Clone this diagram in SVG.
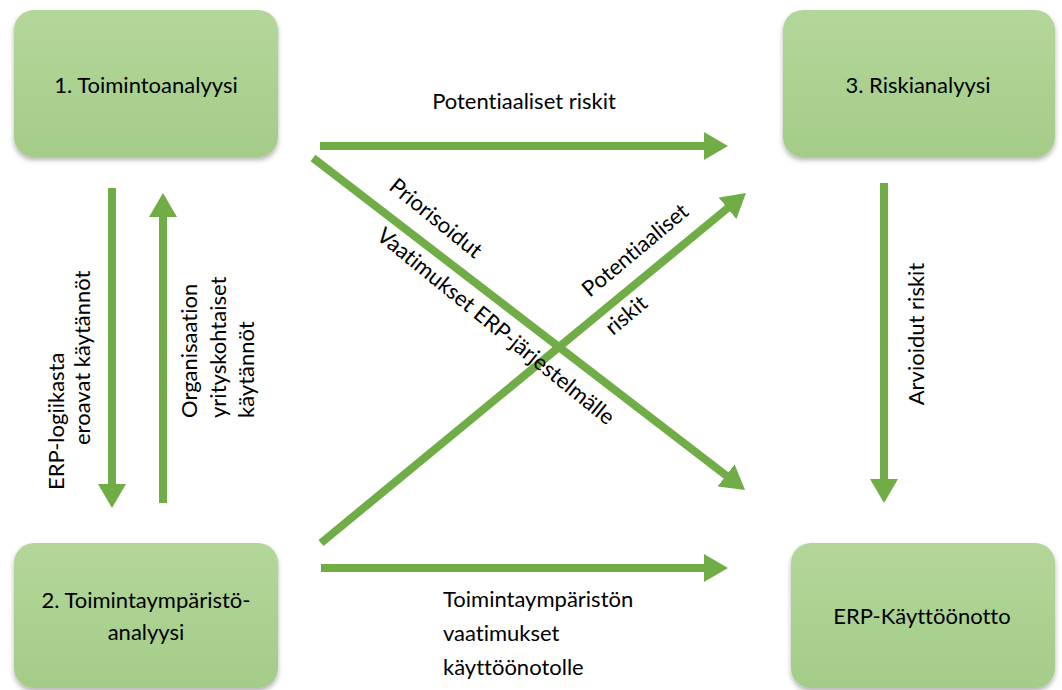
<svg xmlns="http://www.w3.org/2000/svg" width="1062" height="690" viewBox="0 0 1062 690">
  <style>
    .box { fill: url(#boxGrad); filter: url(#soft); }
    .lbl { font-family: Lato, "Liberation Sans", sans-serif; font-size: 22px; fill: #000; font-variant-ligatures: none; }
    .mid { text-anchor: middle; }
    .conn { stroke: #70AD47; stroke-width: 8; fill: none; marker-end: url(#head); }
  </style>
  <defs>
    <linearGradient id="boxGrad" x1="0" y1="0" x2="0" y2="1">
      <stop offset="0" stop-color="#B3D79A"/>
      <stop offset="1" stop-color="#A4CC88"/>
    </linearGradient>
    <filter id="soft" x="-10%" y="-10%" width="120%" height="125%">
      <feGaussianBlur in="SourceAlpha" stdDeviation="2.5"/>
      <feOffset dy="3" result="b"/>
      <feFlood flood-color="#000" flood-opacity="0.3"/>
      <feComposite in2="b" operator="in" result="s"/>
      <feMerge><feMergeNode in="s"/><feMergeNode in="SourceGraphic"/></feMerge>
    </filter>
    <marker id="head" markerUnits="userSpaceOnUse" markerWidth="24" markerHeight="28" refX="2" refY="14" orient="auto">
      <path d="M0,0 L24,14 L0,28 z" fill="#70AD47"/>
    </marker>
  </defs>

  <g id="connectors">
    <line class="conn" x1="320" y1="146" x2="706" y2="146"/>
    <line class="conn" x1="321" y1="568" x2="706" y2="568"/>
    <line class="conn" x1="313" y1="158" x2="727.6" y2="476.6"/>
    <line class="conn" x1="321" y1="543" x2="729" y2="207"/>
    <line class="conn" x1="112" y1="188" x2="112" y2="486"/>
    <line class="conn" x1="163" y1="503" x2="163" y2="215"/>
    <line class="conn" x1="884" y1="183" x2="884" y2="481"/>
  </g>

  <g id="connector-labels">
    <text class="lbl mid" x="524" y="109">Potentiaaliset riskit</text>
    <text class="lbl" x="443" y="607">Toimintaympäristön</text>
    <text class="lbl" x="443" y="641">vaatimukset</text>
    <text class="lbl" x="443" y="675">käyttöönotolle</text>
    <text class="lbl mid" transform="translate(924,334) rotate(-90)">Arvioidut riskit</text>
    <text class="lbl" transform="translate(64,490) rotate(-90)">ERP-logiikasta</text>
    <text class="lbl" transform="translate(90,445) rotate(-90)">eroavat käytännöt</text>
    <text class="lbl" transform="translate(197,418) rotate(-90)">Organisaation</text>
    <text class="lbl" transform="translate(226,418) rotate(-90)">yrityskohtaiset</text>
    <text class="lbl" transform="translate(254,418) rotate(-90)">käytännöt</text>
    <text class="lbl mid" transform="translate(436,218) rotate(39)" dy="0.35em">Priorisoidut</text>
    <text class="lbl mid" transform="translate(496,326) rotate(39)" dy="0.35em">Vaatimukset ERP-järjestelmälle</text>
    <text class="lbl mid" transform="translate(635,250) rotate(-40)" dy="0.35em">Potentiaaliset</text>
    <text class="lbl mid" transform="translate(626,315) rotate(-40)" dy="0.35em">riskit</text>
  </g>

  <g id="node1">
    <rect class="box" x="14" y="10" width="264" height="147" rx="20"/>
    <text class="lbl mid" x="146" y="93">1. Toimintoanalyysi</text>
  </g>
  <g id="node2">
    <rect class="box" x="14" y="543" width="264" height="145" rx="20"/>
    <text class="lbl mid" x="146" y="608">2. Toimintaympäristö-</text>
    <text class="lbl mid" x="146" y="640">analyysi</text>
  </g>
  <g id="node3">
    <rect class="box" x="783" y="10" width="272" height="147" rx="20"/>
    <text class="lbl mid" x="918" y="93">3. Riskianalyysi</text>
  </g>
  <g id="node4">
    <rect class="box" x="791" y="543" width="264" height="145" rx="20"/>
    <text class="lbl mid" x="922" y="624">ERP-Käyttöönotto</text>
  </g>
</svg>
